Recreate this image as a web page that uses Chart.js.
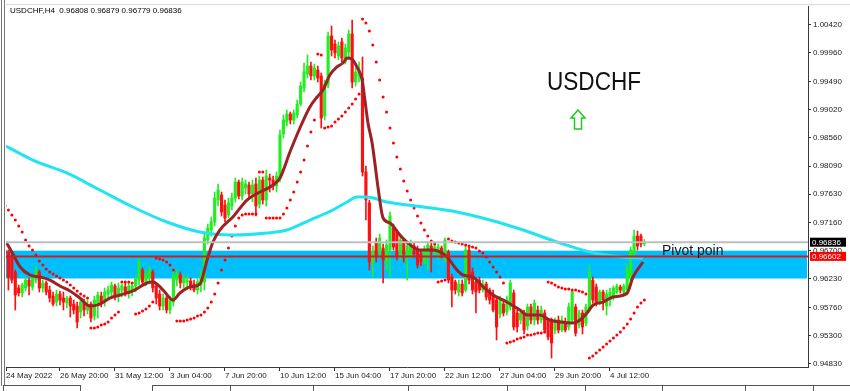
<!DOCTYPE html>
<html>
<head>
<meta charset="utf-8">
<script src="https://cdn.jsdelivr.net/npm/chart.js@4.4.0/dist/chart.umd.min.js"></script>
<style>
  html, body { margin: 0; padding: 0; background: #fff; }
  #wrap { width: 850px; height: 391px; position: relative; }
</style>
</head>
<body>
<div id="wrap"><canvas id="chart"></canvas></div>
<script>
// USDCHF H4 candles, one entry per bar (bar index = position on the time axis)
const barOpen = [
  .96707,.96674,.96608,.96344,.96080,.95998,.96080,.96212,.96097,.96212,
  .96344,.96080,.96163,.96047,.95948,.95849,.95981,.95915,.95832,.95915,
  .95816,.95783,.95684,.95849,.95717,.95816,.95618,.95832,.95948,.95849,
  .95981,.96014,.96113,.95948,.96047,.96097,.95998,.96047,.96113,.96212,
  .96377,.96179,.96245,.96344,.96113,.95981,.95783,.95915,.95717,.95849,
  .96212,.96295,.96163,.96179,.96196,.96146,.96047,.96130,.96179,.96872,
  .97037,.97169,.97532,.97615,.97450,.97285,.97433,.97565,.97829,.97598,
  .97730,.97780,.97631,.97796,.97466,.97862,.97532,.97895,.97862,.97763,
  .97895,.98622,.98819,.98951,.98852,.98935,.99116,.99380,.99611,.99743,
  .99578,.99677,.99578,.98918,.99446,1.00238,1.00106,.99908,1.00139,.99809,
  .99974,1.00271,.99479,.99578,.99545,.97994,.97483,.96509,.96839,.96674,
  .96740,.96509,.96707,.97070,.97004,.96625,.96872,.96575,.96625,.96773,
  .96707,.96641,.96509,.96625,.96773,.96674,.96641,.96740,.96542,.96674,
  .96262,.96179,.96014,.96146,.96047,.96707,.96344,.96179,.96212,.96047,
  .96146,.96047,.95981,.95882,.95651,.95816,.95684,.95767,.95998,.95668,
  .95552,.95668,.95453,.95767,.95552,.95717,.95552,.95668,.95552,.95552,
  .95387,.95552,.95387,.95519,.95437,.95552,.95767,.95470,.95668,.95503,
  .95717,.96212,.96097,.95832,.96014,.95783,.95882,.95948,.96014,.96097,
  .96014,.96047,.96245,.96641,.96938,.96938,.96808
];
const barHigh = [
  .96740,.96707,.96641,.96377,.96130,.96163,.96262,.96245,.96278,.96443,
  .96377,.96212,.96196,.96113,.96014,.96047,.96031,.96014,.95948,.95948,
  .95882,.95849,.95915,.95898,.95882,.95849,.95948,.96014,.96014,.96080,
  .96113,.96179,.96146,.96163,.96146,.96163,.96163,.96146,.96278,.96575,
  .96410,.96377,.96443,.96377,.96163,.96047,.95981,.95948,.95948,.96410,
  .96377,.96344,.96295,.96278,.96245,.96212,.96229,.96377,.96971,.97136,
  .97252,.97664,.97796,.97664,.97532,.97565,.97648,.97895,.97862,.97895,
  .97862,.97829,.97862,.97895,.97928,.97912,.98027,.97961,.97928,.97994,
  .98687,.98935,.99017,.98984,.99017,.99182,.99479,.99793,.99925,.99809,
  .99776,.99743,.99628,.99512,1.00304,1.00403,1.00172,1.00139,1.00205,1.00106,
  1.00337,1.00502,.99710,.99809,.99892,.98093,.97532,.96773,.96905,.96971,
  .96806,.96872,.97334,.97136,.97037,.96938,.96905,.96839,.96872,.96823,
  .96773,.96707,.96773,.96839,.96823,.96790,.96806,.96773,.96905,.96707,
  .96311,.96212,.96212,.96212,.96773,.96757,.96410,.96245,.96262,.96212,
  .96179,.96080,.96047,.95915,.95948,.95882,.95948,.96212,.96047,.95717,
  .95717,.95717,.95816,.95816,.95882,.95783,.95783,.95717,.95585,.95585,
  .95585,.95618,.95618,.95585,.95832,.96047,.95816,.95717,.95717,.95816,
  .96460,.96262,.96146,.96047,.96047,.96047,.96080,.96113,.96146,.96130,
  .96146,.96460,.96757,.97037,.97020,.96971,.96879
];
const barLow = [
  .96608,.96047,.96163,.95717,.95948,.95932,.96031,.95965,.96047,.96163,
  .96014,.96014,.95965,.95849,.95783,.95783,.95800,.95717,.95750,.95602,
  .95651,.95420,.95585,.95618,.95651,.95519,.95552,.95585,.95767,.95783,
  .95882,.95948,.95882,.95849,.95932,.95948,.95915,.95948,.96014,.96130,
  .96130,.96113,.96179,.96014,.95816,.95717,.95717,.95668,.95651,.95783,
  .96113,.96080,.96080,.96047,.96047,.96014,.95981,.96014,.96047,.96806,
  .96938,.97103,.97433,.97268,.97169,.97235,.97367,.97499,.97549,.97532,
  .97631,.97565,.97499,.97268,.97400,.97466,.97433,.97664,.97697,.97664,
  .97829,.98555,.98753,.98786,.98786,.98885,.99083,.99314,.99545,.99512,
  .99512,.99479,.98720,.98852,.99380,.99908,.99875,.99842,.99809,.99776,
  .99875,.99380,.99413,.99479,.97928,.97202,.96377,.96262,.96509,.96608,
  .96163,.96377,.96262,.96707,.96542,.96542,.96509,.96212,.96575,.96592,
  .96410,.96443,.96476,.96377,.96344,.96608,.96542,.96575,.96509,.96163,
  .95767,.95981,.95948,.95948,.96014,.96146,.95981,.95668,.95998,.96014,
  .95882,.95816,.95684,.95222,.95585,.95618,.95635,.95717,.95387,.95354,
  .95486,.95321,.95387,.95486,.95470,.95486,.95503,.95338,.95222,.94925,
  .95321,.95338,.95354,.95354,.95387,.95519,.95288,.95420,.95321,.95453,
  .95684,.95832,.95783,.95800,.95717,.95635,.95783,.95882,.95981,.95998,
  .95948,.95965,.96179,.96575,.96707,.96757,.96779
];
const barClose = [
  .96658,.96262,.96212,.95965,.95998,.96130,.96212,.96113,.96245,.96377,
  .96080,.96163,.96014,.95915,.95816,.95981,.95882,.95849,.95915,.95783,
  .95717,.95519,.95849,.95717,.95800,.95585,.95882,.95965,.95832,.96014,
  .96047,.96130,.95948,.96080,.96113,.96014,.96113,.96113,.96229,.96509,
  .96179,.96311,.96377,.96080,.95915,.95783,.95915,.95717,.95882,.96278,
  .96311,.96163,.96245,.96212,.96113,.96047,.96179,.96278,.96905,.97070,
  .97169,.97565,.97697,.97334,.97235,.97483,.97565,.97829,.97598,.97829,
  .97796,.97631,.97780,.97433,.97862,.97532,.97928,.97862,.97763,.97928,
  .98605,.98852,.98951,.98852,.98968,.99116,.99413,.99644,.99743,.99578,
  .99710,.99545,.98885,.99446,1.00238,1.00007,.99958,1.00073,.99875,1.00040,
  1.00271,.99479,.99644,.99677,.97994,.97532,.96509,.96674,.96608,.96905,
  .96542,.96790,.97268,.96757,.96608,.96872,.96641,.96773,.96823,.96641,
  .96460,.96509,.96707,.96790,.96674,.96757,.96757,.96641,.96872,.96212,
  .96047,.96047,.96146,.95998,.96707,.96212,.96047,.96014,.96047,.96146,
  .95932,.95882,.95717,.95437,.95882,.95668,.95882,.96163,.95437,.95437,
  .95668,.95387,.95767,.95552,.95832,.95552,.95717,.95387,.95272,.95173,
  .95552,.95387,.95552,.95387,.95767,.96014,.95338,.95668,.95437,.95767,
  .96344,.95882,.95832,.96014,.95882,.95981,.96014,.96080,.96113,.96047,
  .96113,.96410,.96707,.96938,.96773,.96806,.96836
];

// Parabolic SAR, one dot per bar
const sarValues = [
  .97433,.97367,.97285,.97202,.97103,.97004,.96872,.96773,.96707,.96625,
  .96526,.96460,.96394,.96344,.96311,.96278,.96245,.96212,.96179,.96130,
  .96080,.96031,.95981,.95948,.95915,.95420,.95420,.95437,.95470,.95486,
  .95519,.95585,.95635,.95684,.96179,.96179,.96179,.96163,.95651,.95668,
  .95701,.95734,.95783,.95849,.96575,.96559,.96542,.96509,.96460,.96377,
  .95536,.95536,.95536,.95552,.95569,.95585,.95618,.95635,.95684,.95750,
  .95849,.95981,.96163,.96377,.96542,.96740,.96938,.97103,.97235,.97285,
  .97301,.97301,.97301,.97301,.97994,.97994,.97235,.97235,.97235,.97235,
  .97235,.97301,.97400,.97532,.97664,.97829,.97994,.98192,.98423,.98654,
  .98852,.99941,.99925,.98720,.98737,.98753,.98819,.98868,.98918,.98984,
  .99050,.99116,.99199,.99281,1.00519,1.00452,1.00320,1.00090,.99809,.99512,
  .99232,.98984,.98720,.98472,.98241,.98043,.97846,.97681,.97532,.97400,
  .97268,.97153,.97037,.96938,.96856,.96806,.96179,.96196,.96212,.96889,
  .96856,.96839,.96823,.96806,.96790,.96773,.96757,.96740,.96691,.96658,
  .96592,.96509,.96427,.96344,.96262,.96163,.95173,.95189,.95206,.95239,
  .95255,.95272,.95305,.95305,.95321,.95338,.95338,.95354,.96179,.96163,
  .96130,.96097,.96080,.96064,.96064,.96047,.96047,.96031,.96014,.95981,
  .94925,.94958,.95008,.95057,.95107,.95156,.95206,.95255,.95305,.95354,
  .95420,.95486,.95569,.95668,.95767,.95832,.95882
];

// fast moving average (brown), read at these bar positions
const maFastBars = [0.3, 2.0, 4.4, 7.3, 10.2, 13.1, 16.0, 18.9, 21.8, 24.7, 27.6, 30.5, 33.5, 37.2, 41.3, 43.1,
  46.0, 48.9, 50.9, 53.8, 56.7, 58.8, 60.5, 62.5, 66.3, 70.4, 74.2, 78.0, 80.0, 82.9, 85.8, 88.7, 90.8, 92.5,
  94.5, 96.6, 98.3, 99.5, 100.9, 102.4, 103.9, 104.7, 105.6, 106.8, 107.6, 108.5, 110.0, 112.0, 114.9, 116.9,
  120.7, 124.5, 128.6, 131.5, 133.2, 136.1, 139.1, 142.0, 146.0, 149.8, 151.9, 155.6, 158.5, 161.5, 165.2,
  167.3, 169.3, 171.1, 174.0, 176.9, 181.0, 182.7, 185.6];
const maFastValues = [.96839, .96674, .96427, .96295, .96262, .96212, .96113, .96031, .95915, .95783, .95816,
  .95915, .95965, .96031, .96163, .96179, .96047, .95882, .95998, .96097, .96146, .96542, .96839, .97037, .97252,
  .97532, .97664, .97780, .97895, .98324, .98720, .99067, .99232, .99347, .99595, .99727, .99793, .99875, .99859,
  .99727, .99512, .99182, .98803, .98472, .98142, .97747, .97235, .97153, .96955, .96839, .96707, .96707, .96592,
  .96377, .96295, .96262, .96097, .95965, .95849, .95717, .95635, .95635, .95552, .95519, .95503, .95552, .95668,
  .95800, .95849, .95932, .95998, .96262, .96509];

// slow moving average (aqua)
const maSlowBars = [0.3, 8.1, 18.0, 27.6, 37.2, 47.1, 56.7, 66.3, 76.2, 82.0, 88.7, 95.4, 99.5, 102.4, 105.3,
  111.1, 121.6, 131.5, 141.1, 150.7, 160.6, 170.2, 179.8, 185.6];
const maSlowValues = [.98423, .98192, .97978, .97697, .97417, .97169, .97004, .96955, .96988, .97037, .97202,
  .97367, .97499, .97582, .97582, .97499, .97417, .97334, .97202, .97037, .96839, .96674, .96592, .96575];

const timeTickBars = [0, 16, 32, 48, 64, 80, 96, 112, 128, 144, 160, 176];
const timeTickLabels = ['24 May 2022', '26 May 20:00', '31 May 12:00', '3 Jun 04:00', '7 Jun 20:00', '10 Jun 12:00',
  '15 Jun 04:00', '17 Jun 20:00', '22 Jun 12:00', '27 Jun 04:00', '29 Jun 20:00', '4 Jul 12:00'];
const priceTicks = [1.0042, 0.9996, 0.9949, 0.9902, 0.9856, 0.9809, 0.9763, 0.9716, 0.9670, 0.9623, 0.9576, 0.9530, 0.9483];

const lastPrice = 0.96836;
const pivotLevel = 0.96602;
const zoneHigh = 0.96696;
const zoneLow = 0.96237;
const headerText = 'USDCHF,H4  0.96808 0.96879 0.96779 0.96836';
const bigLabel = 'USDCHF';
const pivotLabel = 'Pivot poin';

const bullColor = '#22ee22';
const bearColor = '#ff0f0f';
const isBull = i => barClose[i] >= barOpen[i];

const FONT = '"Liberation Sans", Arial, sans-serif';
Chart.defaults.font.family = FONT;
Chart.defaults.font.size = 8;
Chart.defaults.color = '#1a1a1a';

const mtOverlay = {
  id: 'mtOverlay',
  beforeDatasetsDraw(chart) {
    const { ctx, chartArea: a, scales: { y } } = chart;
    const top = y.getPixelForValue(zoneHigh);
    const bot = y.getPixelForValue(zoneLow);
    ctx.save();
    ctx.fillStyle = '#00bfff';
    ctx.fillRect(a.left, top, a.right - a.left - 1, bot - top);
    ctx.restore();
  },
  afterDatasetsDraw(chart) {
    const { ctx, chartArea: a, scales: { y } } = chart;
    ctx.save();
    // bid line
    let py = y.getPixelForValue(lastPrice);
    ctx.strokeStyle = '#b7bfc7';
    ctx.lineWidth = 2;
    ctx.beginPath(); ctx.moveTo(a.left, py); ctx.lineTo(a.right, py); ctx.stroke();
    // pivot line
    py = y.getPixelForValue(pivotLevel);
    ctx.strokeStyle = '#d41c1c';
    ctx.beginPath(); ctx.moveTo(a.left, py); ctx.lineTo(a.right, py); ctx.stroke();
    ctx.restore();
  },
  afterDraw(chart) {
    const { ctx, chartArea: a, scales: { y } } = chart;
    ctx.save();
    // window frame bits
    ctx.fillStyle = '#777';
    ctx.fillRect(1, 0, 1, 386);
    ctx.fillRect(4, 0, 1, 386);
    ctx.fillStyle = '#dcdcdc';
    ctx.fillRect(6, 4, 844, 1);

    // header
    ctx.fillStyle = '#000';
    ctx.font = '8px ' + FONT;
    ctx.textBaseline = 'alphabetic';
    ctx.textAlign = 'left';
    ctx.fillText(headerText, 10, 12.5);

    // big symbol label and arrow
    ctx.fillStyle = '#111';
    ctx.font = '26px ' + FONT;
    ctx.fillText(bigLabel, 547, 90, 94);
    ctx.strokeStyle = '#22c822';
    ctx.lineWidth = 1.5;
    ctx.beginPath();
    ctx.moveTo(578, 110); ctx.lineTo(585, 118); ctx.lineTo(581.5, 118); ctx.lineTo(581.5, 129);
    ctx.lineTo(574.5, 129); ctx.lineTo(574.5, 118); ctx.lineTo(571, 118); ctx.closePath();
    ctx.stroke();

    // pivot text
    const pv = y.getPixelForValue(pivotLevel);
    ctx.fillStyle = '#151515';
    ctx.font = '14px ' + FONT;
    ctx.fillText(pivotLabel, 662, pv - 1);

    // price tags on the axis
    const tag = (val, bg) => {
      const p = y.getPixelForValue(val);
      ctx.fillStyle = bg;
      ctx.fillRect(a.right + 2, p - 4.5, 36, 9);
      ctx.fillStyle = '#fff';
      ctx.font = '8px ' + FONT;
      ctx.textBaseline = 'middle';
      ctx.fillText(val.toFixed(5), a.right + 4, p + 0.5);
    };
    tag(lastPrice, '#000');
    tag(pivotLevel, '#ff0000');

    // bottom tab strip
    ctx.fillStyle = '#555';
    ctx.fillRect(3, 385, 77, 1);
    ctx.fillRect(152, 385, 698, 1);
    [3, 80, 152, 230, 313, 408, 507, 585, 662, 745, 813].forEach(t => ctx.fillRect(t, 385, 1, 6));
    ctx.restore();
  }
};

const xMin = 0.3, xMax = 233.6;

new Chart(document.getElementById('chart'), {
  type: 'bar',
  data: {
    datasets: [
      {
        type: 'line',
        data: maFastBars.map((b, i) => ({ x: b, y: maFastValues[i] })),
        borderColor: '#9c2226',
        borderWidth: 3,
        pointRadius: 0,
        cubicInterpolationMode: 'monotone',
        order: 0
      },
      {
        type: 'line',
        data: maSlowBars.map((b, i) => ({ x: b, y: maSlowValues[i] })),
        borderColor: '#22e4f0',
        borderWidth: 3,
        pointRadius: 0,
        cubicInterpolationMode: 'monotone',
        order: 1
      },
      {
        type: 'line',
        data: sarValues.map((v, i) => ({ x: i, y: v })),
        showLine: false,
        pointRadius: 1.5,
        pointBorderWidth: 0,
        pointBackgroundColor: '#ff0000',
        order: 2
      },
      {
        data: barOpen.map((o, i) => ({ x: i, y: [o, barClose[i]] })),
        backgroundColor: c => isBull(c.dataIndex) ? bullColor : bearColor,
        barThickness: 2.5,
        minBarLength: 1,
        grouped: false,
        order: 3
      },
      {
        data: barLow.map((l, i) => ({ x: i, y: [l, barHigh[i]] })),
        backgroundColor: c => isBull(c.dataIndex) ? bullColor : bearColor,
        barThickness: 1,
        grouped: false,
        order: 4
      }
    ]
  },
  options: {
    responsive: true,
    maintainAspectRatio: false,
    animation: false,
    devicePixelRatio: 1,
    layout: { padding: { left: 6, top: 6, right: 0, bottom: 0 } },
    plugins: { legend: { display: false }, tooltip: { enabled: false } },
    scales: {
      x: {
        type: 'linear',
        min: xMin,
        max: xMax,
        offset: false,
        grid: { display: true, offset: false, drawOnChartArea: false, drawTicks: true, tickLength: 4, color: '#333' },
        border: { display: true, color: '#3a3a3a', width: 1 },
        ticks: {
          autoSkip: false, maxRotation: 0, align: 'start', padding: 0,
          callback: (v, i) => timeTickLabels[i]
        },
        afterBuildTicks: s => { s.ticks = timeTickBars.map(v => ({ value: Math.max(v, xMin) })); },
        afterFit: s => { s.height = 24; s.paddingLeft = 0; s.paddingRight = 0; }
      },
      y: {
        type: 'linear',
        position: 'right',
        min: 0.94777,
        max: 1.00733,
        grid: { display: true, drawOnChartArea: false, drawTicks: true, tickLength: 3, color: '#333' },
        border: { display: true, color: '#3a3a3a', width: 1 },
        ticks: { padding: 2, callback: v => v.toFixed(5) },
        afterBuildTicks: s => { s.ticks = priceTicks.map(v => ({ value: v })); },
        afterFit: s => { s.width = 42; s.paddingTop = 0; s.paddingBottom = 0; }
      }
    }
  },
  plugins: [mtOverlay]
});
</script>
</body>
</html>
